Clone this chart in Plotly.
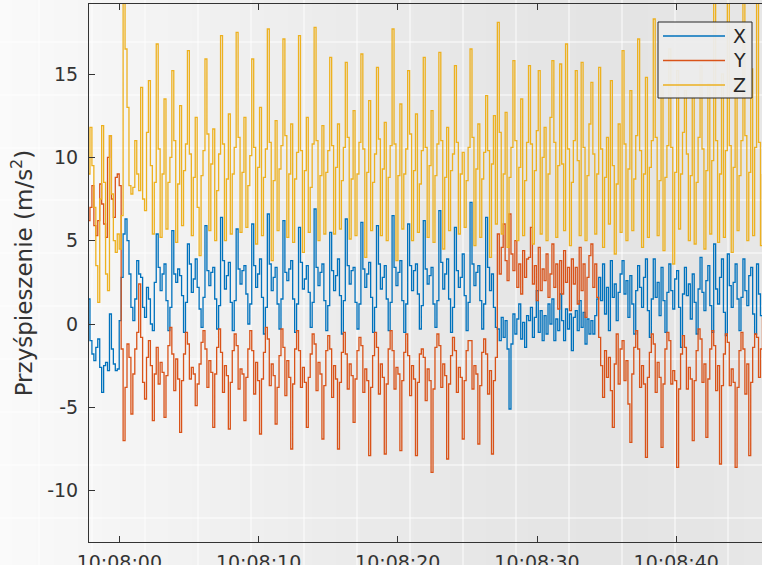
import plotly.graph_objects as go

# ---- data ----
t_start = -2.25      # seconds relative to 10:08:00 of the first sample
t_step = 0.14        # sampling step of the listed values (s)

acc_z = [
    9.0, 11.8, 9.5, 7.0, 3.5, 1.3, 7.5, 11.9, 8.5, 3.0, 2.0, 11.3, 7.8, 5.0, 4.3, 5.4, 4.5, 6.5,
    19.5, 16.5, 13.0, 8.3, 7.8, 8.2, 11.0, 9.0, 8.0, 14.2, 7.5, 6.8, 11.5, 14.6, 9.5, 5.4, 8.5,
    16.8, 10.5, 5.2, 9.0, 13.5, 5.7, 8.5, 10.0,
    15.2, 11.0, 4.9, 8.4, 13.1, 5.9, 9.2, 10.8,
    16.4, 10.2, 5.3, 8.8, 12.4, 7.0, 4.1, 8.9, 10.4,
    15.9, 11.4, 5.6, 9.6, 11.7, 5.0, 8.0, 10.2,
    17.3, 10.8, 5.0, 8.7, 12.6, 5.4, 9.0, 10.6,
    17.5, 11.2, 5.5, 9.1, 12.4, 5.8, 8.3, 10.1,
    15.9, 10.6, 4.8, 9.4, 13.0, 5.3, 8.8, 10.5,
    17.7, 10.9, 3.8, 8.6, 12.2, 5.6, 9.3, 10.7,
    17.1, 11.3, 5.2, 9.0, 12.0, 4.9, 8.7, 10.3,
    17.3, 10.4, 4.3, 9.2, 12.4, 5.5, 8.2, 10.8,
    17.8, 11.0, 5.0, 8.9, 11.9, 5.4, 9.1, 10.4,
    16.0, 10.7, 5.4, 9.4, 12.0, 5.7, 8.6, 10.6,
    15.7, 11.2, 5.1, 8.7, 12.8, 5.3, 9.0, 10.9,
    16.2, 10.5, 4.0, 9.1, 13.4, 5.6, 8.5, 10.2,
    15.4, 11.1, 5.3, 9.3, 12.1, 5.0, 8.8, 10.7,
    17.7, 10.8, 3.8, 8.9, 13.2, 5.7, 9.0, 10.5,
    15.2, 11.4, 5.0, 9.2, 12.6, 5.5, 8.4, 10.4,
    16.0, 10.6, 5.2, 9.5, 12.8, 4.9, 8.9, 10.8,
    16.3, 11.0, 4.5, 8.8, 11.8, 5.6, 9.2, 10.2,
    15.5, 10.9, 5.4, 9.0, 10.3, 5.8, 8.6, 10.6,
    16.5, 11.2, 4.7, 9.3, 12.0, 5.2, 8.7, 10.3,
    13.7, 10.4, 4.0, 9.6, 12.5, 6.0,
    18.1, 11.5, 5.4, 9.0, 12.7, 4.6, 8.8, 10.6,
    15.8, 11.0, 5.0, 9.4, 13.5, 5.3, 8.6, 10.9,
    15.5, 10.8, 4.8, 9.2, 11.6, 15.2, 5.4, 10.0,
    11.8, 5.0, 9.0, 12.4, 15.8, 10.9, 5.2, 9.5,
    15.6, 9.6, 5.6, 16.8, 10.5, 4.7, 8.5, 11.0,
    15.2, 9.8, 5.3, 15.7, 10.6, 5.0, 8.9, 12.0,
    14.5, 10.2, 5.4, 9.0,
    15.4, 10.5, 4.6, 8.8, 11.2, 6.0, 14.6, 9.5, 4.2, 8.4, 12.0, 5.5,
    16.4, 10.8, 5.0, 9.3, 14.0, 5.6, 8.7, 11.3,
    17.1, 10.4, 4.6, 9.0, 14.8, 5.2, 9.4, 11.0,
    18.3, 11.2, 5.3, 8.6, 14.3, 4.4, 8.8, 10.7,
    16.5, 10.6, 3.6, 9.1, 15.2, 5.7, 9.0, 11.5,
    14.0, 10.2, 5.0, 8.9, 13.6, 4.8, 8.5, 11.2,
    15.5, 10.5, 4.5, 9.2, 14.4, 5.4, 9.8,
    19.5, 11.0, 4.9, 9.0, 15.0, 5.2, 10.4,
    19.5, 10.7, 4.3, 9.4, 14.6, 5.6, 8.9, 11.0,
    19.5, 11.3, 5.0, 9.1, 15.3, 5.3, 10.6,
    19.5, 10.9, 4.7, 9.0,
]

acc_x = [
    1.5, -1.0, -1.8, -2.2, -1.4, -0.9, -2.6, -4.1, -2.5, -2.3, -2.8, 0.6, -1.5, -2.4, -2.8, -2.7, 0.2, 2.8,
    5.4, 6.3, 5.0, 3.0, 1.0, 0.2, 1.5, 3.8, 3.0, 2.8, 1.0, 0.4, 2.2, 1.5, 0.0, -0.4, 2.5,
    5.4, 3.4, 2.0, 3.0, 3.6, 1.4, -0.4, 1.0,
    5.6, 3.0, 2.5, 3.3, 2.9, 1.7, -0.5, 1.3,
    4.8, 3.6, 1.9, 2.7, 3.9, 2.2, 0.9, -0.2, 1.6,
    5.9, 3.2, 2.3, 3.1, 3.4, 1.5, -0.3, 1.1,
    6.4, 3.8, 2.1, 2.9, 3.7, 1.3, -0.4, 1.4,
    5.7, 3.3, 2.4, 3.2, 3.5, 1.8, 0.0, 1.2,
    6.0, 3.5, 2.2, 3.0, 3.9, 1.6, -0.6, 1.0,
    6.6, 3.6, 2.0, 2.8, 3.4, 1.2, -0.3, 1.5,
    6.2, 3.1, 2.6, 3.3, 3.8, 1.5, -0.5, 1.2,
    5.8, 3.7, 2.1, 2.7, 3.5, 1.9, -0.2, 1.3,
    6.9, 3.4, 2.3, 3.1, 3.6, 1.4, -0.4, 1.1,
    5.5, 3.2, 2.0, 2.9, 3.9, 1.7, -0.6, 1.4,
    6.3, 3.5, 2.4, 3.2, 3.4, 1.3, -0.3, 1.2,
    6.1, 3.3, 2.2, 3.0, 3.7, 1.6, -0.5, 1.0,
    5.9, 3.6, 2.1, 2.8, 3.5, 1.5, -0.4, 1.3,
    6.5, 3.4, 2.3, 3.1, 3.8, 1.4, -0.5, 1.2,
    6.0, 3.5, 2.0, 3.2, 3.6, 1.8, -0.3, 1.1,
    6.2, 3.3, 2.4, 2.9, 3.4, 1.2, -0.2, 1.4,
    6.8, 3.7, 2.1, 3.0, 3.9, 1.5, -0.5, 1.0,
    5.8, 3.2, 2.2, 2.8, 4.2, 1.7, -0.4, 1.3,
    7.3, 3.6, 2.3, 3.1, 3.5, 1.4, -0.3, 1.2,
    6.4, 3.4, 2.0, 3.0, 1.0, -0.2,
    -0.3, -1.0, 0.4, -0.8, 0.2, -1.5, -5.1, -1.2,
    0.6, -0.6, 0.3, 1.2, -0.9, 0.1, -1.4, 0.5,
    0.2, 1.0, -0.8, 0.4, 2.0, -0.5, 0.8, -1.0,
    0.5, -0.6, 1.2, 0.0, 1.5, -1.0, 0.3, -0.4,
    1.8, 0.2, -1.0, 0.9, -0.3, 0.6, -1.6, 0.4,
    0.8, -0.4, 1.4, -0.2, 0.7, -1.2, 0.3, -0.6,
    0.2, -0.6, 0.5, 1.5,
    2.8, 1.4, 3.6, 0.6, 2.2, -0.4, 3.8, 1.6, 2.4, 0.2, 1.9, 3.0,
    3.8, 1.8, 2.6, 0.4, 2.9, 1.2, -0.6, 2.0,
    3.5, 2.2, 1.0, 2.8, 3.9, 0.8, -0.8, 1.5,
    3.9, 1.6, 2.5, 0.5, 3.4, 1.4, -0.5, 1.9,
    3.6, 2.0, 0.9, 2.7, 3.2, 1.0, -1.4, 1.8,
    3.4, 1.7, 2.4, 0.3, 3.0, 1.3, -0.6, 2.1,
    4.0, 1.9, 0.8, 2.6, 3.5, 1.1, -0.5,
    4.8, 2.1, 1.2, 2.8, 3.9, 0.7, -0.7,
    4.2, 2.3, 1.0, 2.5, 3.6, 1.5, -0.4, 1.6,
    3.9, 2.0, 1.1, 2.9, 3.4, 0.6, -0.6,
    3.6, 1.8, 0.5, 0.4,
]

acc_y = [
    6.2, 7.0, 8.3, 5.9, 5.3, 6.2, 8.4, 7.2, 6.0, 5.2, 10.0, 11.3, 7.5, 6.4, 8.8, 9.0, 8.3, -1.5,
    -7.0, -3.8, -1.2, -2.0, -5.4, -3.0, -1.5, -0.5, 2.4, -0.8, -3.5, -4.5, -2.0, -1.0, -2.5, -5.8, -3.0,
    -1.4, -3.6, -2.3, -2.9, -5.6, -3.1, -1.3, -0.2,
    -1.8, -4.0, -2.1, -3.3, -6.5, -3.4, -1.8, -0.5,
    -1.2, -3.3, -2.6, -3.0, -4.9, -3.6, -2.4, -1.1, -0.4,
    -1.5, -3.8, -2.2, -2.9, -6.2, -3.0, -1.4, -0.3,
    -1.7, -4.1, -2.5, -3.1, -6.3, -3.5, -1.6, -0.6,
    -1.3, -3.9, -2.7, -3.0, -5.8, -3.2, -1.5, -0.4,
    -1.6, -4.2, -2.3, -3.4, -6.6, -3.3, -1.7, -0.2,
    -0.9, -3.7, -2.4, -3.1, -6.0, -3.8, -1.9, -0.3,
    -1.4, -4.3, -2.2, -3.2, -7.5, -3.6, -1.5, -0.4,
    -1.6, -3.8, -2.6, -3.5, -6.2, -3.2, -1.8, -0.6,
    -1.2, -4.0, -2.3, -3.0, -6.9, -3.7, -1.6, -0.7,
    -1.5, -4.4, -2.5, -3.3, -7.5, -3.5, -1.7, -0.5,
    -1.8, -3.9, -2.4, -3.1, -5.9, -3.3, -1.6, -0.8,
    -1.3, -4.1, -2.7, -3.4, -7.9, -3.8, -1.9, -0.5,
    -1.4, -4.2, -2.4, -3.2, -7.8, -3.6, -1.5, -0.4,
    -1.6, -3.9, -2.6, -3.0, -7.6, -3.4, -1.7, -0.6,
    -1.9, -4.3, -2.5, -3.3, -7.9, -3.5, -1.8, -1.5,
    -2.0, -4.6, -2.7, -3.4, -8.9, -3.9, -1.4, -0.6,
    -1.3, -3.8, -2.4, -3.1, -8.1, -3.6, -1.9, -0.8,
    -1.6, -4.1, -2.6, -3.2, -6.9, -3.4, -1.6, -1.0,
    -1.0, -3.9, -2.5, -3.0, -7.2, -3.7, -1.7, -0.9,
    -1.8, -4.2, -2.8, -7.8, -3.4, -2.0,
    5.4, 3.0, 4.6, 6.0, 3.8, 2.6, 6.6, 4.2,
    3.2, 5.0, 2.2, 3.6, 1.8, 4.4, 2.8, 3.9,
    4.0, 5.8, 2.4, 3.5, 1.4, 4.6, 2.0, 3.3,
    2.6, 4.2, 1.6, 3.0, 4.8, 2.2, 3.6, 0.9,
    3.8, 1.8, 4.4, 2.5, 3.4, 0.8, 3.9, 2.4,
    3.4, 1.2, 4.6, 2.0, 3.6, 0.4, 2.8, 4.1,
    4.8, 2.2, 3.6, 1.6,
    -0.8, -2.5, -4.4, -1.6, -3.2, -2.0, -4.0, -6.2, -2.4, -0.6, -3.6, -1.5,
    -1.0, -3.4, -2.2, -4.8, -7.1, -3.0, -1.4, -0.4,
    -1.5, -3.8, -2.5, -3.6, -8.0, -3.2, -1.7, -0.6,
    -1.2, -4.1, -2.3, -3.2, -7.4, -3.6, -1.5, -0.5,
    -1.0, -3.6, -2.8, -3.4, -8.6, -3.9, -1.8, -0.7,
    -1.4, -3.9, -2.6, -3.3, -7.0, -3.4, -1.6, -0.3,
    -0.9, -3.5, -2.4, -6.8, -3.3, -1.5, -0.4,
    -1.3, -4.0, -2.5, -8.4, -3.7, -1.8, -0.6,
    -1.1, -3.7, -2.7, -3.5, -8.6, -3.8, -1.6, -0.5,
    -1.5, -4.2, -2.4, -7.9, -3.5, -1.4, -0.6,
    -0.8, -3.2, -1.5, 0.4,
]

series_names = ["X", "Y", "Z"]
series_colors = ["#0072BD", "#D95319", "#EDB120"]

x_tick_vals = [0, 10, 20, 30, 40]
x_tick_text = ["10:08:00", "10:08:10", "10:08:20", "10:08:30", "10:08:40"]
y_tick_vals = [-10, -5, 0, 5, 10, 15]
y_tick_text = ["-10", "-5", "0", "5", "10", "15"]

n = min(len(acc_x), len(acc_y), len(acc_z))
times = [t_start + t_step * i for i in range(n)]

# ---- figure ----
W, H = 762, 565
ML, MR, MT, MB = 89, 0, 4, 23
PW, PH = W - ML - MR, H - MT - MB

def px_to_paper_x(px):
    return (px - ML) / PW

def py_to_paper_y(py):
    return (H - MB - py) / PH

fig = go.Figure()
for name, vals, col in zip(series_names, [acc_x, acc_y, acc_z], series_colors):
    fig.add_trace(go.Scatter(
        x=times, y=vals[:n], name=name, mode="lines",
        line=dict(color=col, width=1.3, shape="hv"),
        showlegend=False,
    ))

shapes = []
annotations = []
# background gradient (light on the left, darker towards the right)
stops = [(0, 250), (90, 246), (200, 241), (300, 237), (400, 233),
         (500, 230), (600, 228), (700, 229), (762, 231)]

def grey_at(px):
    for (a, ga), (b, gb) in zip(stops[:-1], stops[1:]):
        if a <= px <= b:
            return ga + (gb - ga) * (px - a) / (b - a)
    return stops[-1][1]

step = 6
for px in range(0, W, step):
    g = int(round(grey_at(px + step / 2)))
    shapes.append(dict(
        type="rect", xref="paper", yref="paper", layer="below",
        x0=px_to_paper_x(px), x1=px_to_paper_x(px + step + 0.5),
        y0=py_to_paper_y(H), y1=py_to_paper_y(0),
        line=dict(width=0), fillcolor=f"rgb({g},{g},{g})",
    ))

# faint white pattern lines of the background
for py in [42, 95, 148, 200, 253, 306, 359, 412, 465, 518]:
    shapes.append(dict(
        type="line", xref="paper", yref="paper", layer="below",
        x0=px_to_paper_x(0), x1=px_to_paper_x(W), y0=py_to_paper_y(py), y1=py_to_paper_y(py),
        line=dict(color="rgba(255,255,255,0.6)", width=1.5),
    ))
for px in [39, 92, 145, 198, 251, 304, 357, 410, 463, 516, 569, 622, 675, 728]:
    shapes.append(dict(
        type="line", xref="paper", yref="paper", layer="below",
        x0=px_to_paper_x(px), x1=px_to_paper_x(px), y0=py_to_paper_y(H), y1=py_to_paper_y(0),
        line=dict(color="rgba(255,255,255,0.6)", width=1.5),
    ))

font_family = "DejaVu Sans"
axis_col = "#333333"

# legend box drawn by hand (MATLAB style)
shapes.append(dict(
    type="rect", xref="paper", yref="paper", layer="above",
    x0=px_to_paper_x(658), x1=px_to_paper_x(752), y0=py_to_paper_y(98), y1=py_to_paper_y(22),
    line=dict(color="#262626", width=1), fillcolor="rgba(236,236,236,0.95)",
))
for k, (name, col) in enumerate(zip(series_names, series_colors)):
    yy = 36 + 24.5 * k
    shapes.append(dict(
        type="line", xref="paper", yref="paper", layer="above",
        x0=px_to_paper_x(663), x1=px_to_paper_x(725), y0=py_to_paper_y(yy), y1=py_to_paper_y(yy),
        line=dict(color=col, width=1.3),
    ))
    annotations.append(dict(
        text=name, xref="paper", yref="paper", x=px_to_paper_x(731), y=py_to_paper_y(yy),
        xanchor="left", yanchor="middle", showarrow=False,
        font=dict(family=font_family, size=19, color="#262626"),
    ))

fig.update_layout(
    width=W, height=H,
    margin=dict(l=ML, r=MR, t=MT, b=MB, pad=0, autoexpand=False),
    paper_bgcolor="#f7f7f7",
    plot_bgcolor="rgba(0,0,0,0)",
    font=dict(family=font_family, size=19, color=axis_col),
    shapes=shapes,
    annotations=annotations,
    showlegend=False,
    xaxis=dict(
        range=[-2.18, 46.16], tickmode="array", tickvals=x_tick_vals, ticktext=x_tick_text,
        ticks="inside", ticklen=6, tickwidth=1, tickcolor=axis_col,
        showline=True, linecolor=axis_col, linewidth=1, mirror="ticks",
        showgrid=False, zeroline=False, automargin=False, ticklabelstandoff=3,
        tickfont=dict(family=font_family, size=19, color=axis_col),
    ),
    yaxis=dict(
        range=[-13.08, 19.2], tickmode="array", tickvals=y_tick_vals, ticktext=y_tick_text,
        ticks="inside", ticklen=6, tickwidth=1, tickcolor=axis_col,
        showline=True, linecolor=axis_col, linewidth=1, mirror=False,
        showgrid=False, zeroline=False, ticklabelstandoff=6, automargin=False,
        tickfont=dict(family=font_family, size=19, color=axis_col),
        title=dict(text="Przyśpieszenie (m/s<sup>2</sup>)",
                   font=dict(family=font_family, size=23, color=axis_col), standoff=8),
    ),
)

fig.write_html(
    "out.html",
    config={"displayModeBar": False},
    post_script="document.body.style.margin='0px';document.body.style.overflow='hidden';",
)
